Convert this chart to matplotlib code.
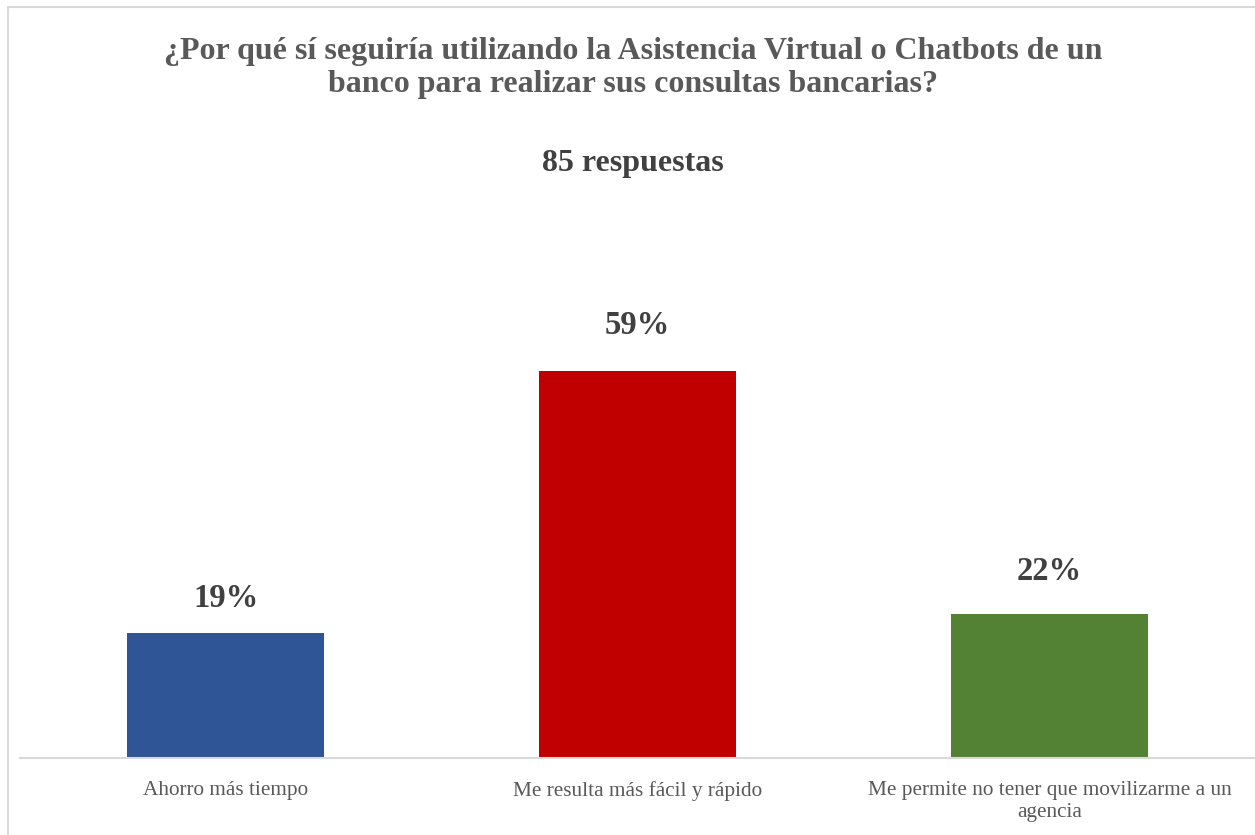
import matplotlib.pyplot as plt
from matplotlib.patches import Rectangle

categories = ["Ahorro más tiempo", "Me resulta más fácil y rápido",
              "Me permite no tener que movilizarme a un\nagencia"]
values = [19, 59, 22]
colors = ["#2F5597", "#C00000", "#548235"]

plt.rcParams["font.family"] = ["Liberation Serif", "DejaVu Serif"]

fig = plt.figure(figsize=(12.55, 8.35), dpi=100)
# light outer frame of the chart area
fig.add_artist(Rectangle((8 / 1255, -0.01), 1.02, 1 - 7 / 835 + 0.01,
                         transform=fig.transFigure, fill=False,
                         edgecolor="#D9D9D9", linewidth=1.5))

ax = fig.add_axes([19.5 / 1255, 77 / 835, 1236 / 1255, 459 / 835])
x = range(len(categories))
bars = ax.bar(x, values, width=0.478, color=colors)
ax.set_xlim(-0.5, 2.5)
ax.set_ylim(0, 70)

label_gap = [14, 21.5, 19.5]
for b, v, g in zip(bars, values, label_gap):
    ax.annotate(f"{v}%", (b.get_x() + b.get_width() / 2, v),
                xytext=(0, g), textcoords="offset points",
                ha="center", va="bottom", fontsize=23.5, fontweight="bold",
                color="#404040")

ax.set_xticks(list(x))
ax.set_xticklabels(categories, fontsize=15.3, color="#595959",
                   linespacing=1.25)
ax.tick_params(axis="x", length=0, pad=16.5)
ax.set_yticks([])
for s in ["top", "right", "left"]:
    ax.spines[s].set_visible(False)
ax.spines["bottom"].set_color("#D9D9D9")
ax.spines["bottom"].set_linewidth(1.5)

fig.text(0.5045, 1 - 68 / 835,
         "¿Por qué sí seguiría utilizando la Asistencia Virtual o Chatbots de un\n"
         "banco para realizar sus consultas bancarias?",
         ha="center", va="center", fontsize=23, fontweight="bold",
         color="#595959", linespacing=1.2)
fig.text(0.5045, 1 - 164 / 835, "85 respuestas", ha="center", va="center",
         fontsize=23, fontweight="bold", color="#404040")

fig.savefig("out.png", dpi=100, facecolor="white")
